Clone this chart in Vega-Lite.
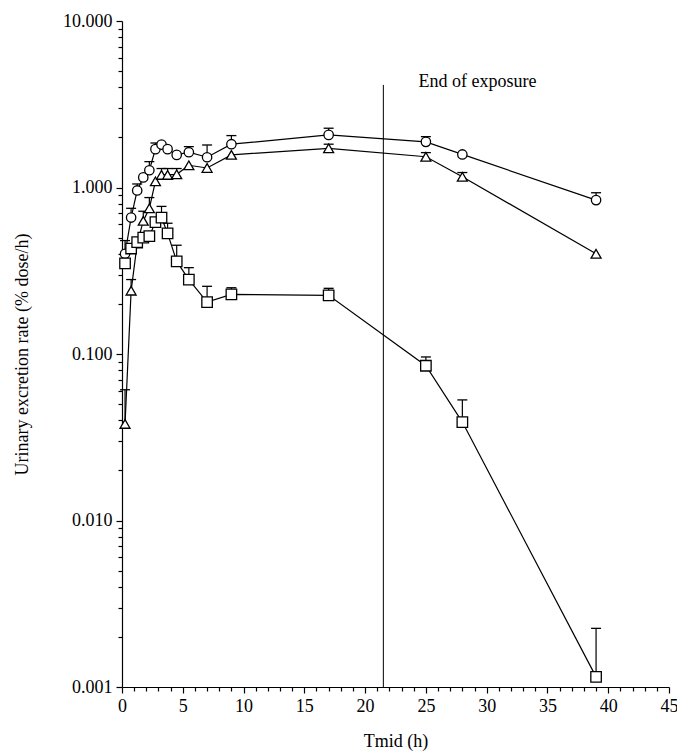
{
  "$schema": "https://vega.github.io/schema/vega-lite/v6.json",
  "width": 547,
  "height": 666,
  "autosize": {"type": "none"},
  "padding": {"left": 122, "top": 21, "right": 8, "bottom": 65},
  "background": "white",
  "config": {
    "view": {"stroke": null},
    "font": "Liberation Serif",
    "axis": {
      "domainColor": "black",
      "domainWidth": 1.2,
      "tickColor": "black",
      "tickWidth": 1.2,
      "labelColor": "black",
      "labelFont": "Liberation Serif",
      "labelFontSize": 18,
      "titleColor": "black",
      "titleFont": "Liberation Serif",
      "titleFontSize": 18,
      "titleFontWeight": "normal",
      "grid": false
    }
  },
  "datasets": {
    "rates": [
      {"series": "circle", "t": 0.25, "v": 0.40, "hi": 0.48},
      {"series": "circle", "t": 0.75, "v": 0.66, "hi": 0.75},
      {"series": "circle", "t": 1.25, "v": 0.96, "hi": 1.05},
      {"series": "circle", "t": 1.75, "v": 1.15, "hi": null},
      {"series": "circle", "t": 2.25, "v": 1.27, "hi": 1.43},
      {"series": "circle", "t": 2.75, "v": 1.70, "hi": 1.85},
      {"series": "circle", "t": 3.25, "v": 1.81, "hi": null},
      {"series": "circle", "t": 3.75, "v": 1.70, "hi": null},
      {"series": "circle", "t": 4.5, "v": 1.57, "hi": null},
      {"series": "circle", "t": 5.5, "v": 1.63, "hi": 1.76},
      {"series": "circle", "t": 7, "v": 1.52, "hi": 1.80},
      {"series": "circle", "t": 9, "v": 1.82, "hi": 2.05},
      {"series": "circle", "t": 17, "v": 2.07, "hi": 2.27},
      {"series": "circle", "t": 25, "v": 1.88, "hi": 2.02},
      {"series": "circle", "t": 28, "v": 1.58, "hi": null},
      {"series": "circle", "t": 39, "v": 0.84, "hi": 0.93},

      {"series": "triangle", "t": 0.25, "v": 0.038, "hi": 0.061},
      {"series": "triangle", "t": 0.75, "v": 0.24, "hi": 0.28},
      {"series": "triangle", "t": 1.25, "v": 0.46, "hi": null},
      {"series": "triangle", "t": 1.75, "v": 0.63, "hi": 0.72},
      {"series": "triangle", "t": 2.25, "v": 0.75, "hi": 0.87},
      {"series": "triangle", "t": 2.75, "v": 1.09, "hi": null},
      {"series": "triangle", "t": 3.25, "v": 1.19, "hi": 1.30},
      {"series": "triangle", "t": 3.75, "v": 1.19, "hi": 1.30},
      {"series": "triangle", "t": 4.5, "v": 1.20, "hi": 1.30},
      {"series": "triangle", "t": 5.5, "v": 1.36, "hi": null},
      {"series": "triangle", "t": 7, "v": 1.31, "hi": null},
      {"series": "triangle", "t": 9, "v": 1.57, "hi": null},
      {"series": "triangle", "t": 17, "v": 1.72, "hi": 1.82},
      {"series": "triangle", "t": 25, "v": 1.53, "hi": 1.62},
      {"series": "triangle", "t": 28, "v": 1.16, "hi": 1.23},
      {"series": "triangle", "t": 39, "v": 0.40, "hi": null},

      {"series": "square", "t": 0.25, "v": 0.35, "hi": null},
      {"series": "square", "t": 0.75, "v": 0.43, "hi": null},
      {"series": "square", "t": 1.25, "v": 0.47, "hi": null},
      {"series": "square", "t": 1.75, "v": 0.50, "hi": null},
      {"series": "square", "t": 2.25, "v": 0.51, "hi": null},
      {"series": "square", "t": 2.75, "v": 0.62, "hi": null},
      {"series": "square", "t": 3.25, "v": 0.66, "hi": 0.77},
      {"series": "square", "t": 3.75, "v": 0.53, "hi": 0.61},
      {"series": "square", "t": 4.5, "v": 0.36, "hi": 0.45},
      {"series": "square", "t": 5.5, "v": 0.28, "hi": 0.33},
      {"series": "square", "t": 7, "v": 0.205, "hi": 0.255},
      {"series": "square", "t": 9, "v": 0.228, "hi": 0.25},
      {"series": "square", "t": 17, "v": 0.225, "hi": 0.248},
      {"series": "square", "t": 25, "v": 0.085, "hi": 0.096},
      {"series": "square", "t": 28, "v": 0.039, "hi": 0.053},
      {"series": "square", "t": 39, "v": 0.00115, "hi": 0.00225}
    ],
    "exposure": [
      {"t": 21.5, "v": 0.001, "top": 4.13}
    ],
    "note": [
      {"t": 24.4, "v": 4.3, "label": "End of exposure"}
    ]
  },
  "encoding": {
    "x": {
      "field": "t", "type": "quantitative",
      "scale": {"domain": [0, 45], "nice": false, "zero": false},
      "axis": {
        "title": "Tmid (h)",
        "titlePadding": 17,
        "values": [0,1,2,3,4,5,6,7,8,9,10,11,12,13,14,15,16,17,18,19,20,21,22,23,24,25,26,27,28,29,30,31,32,33,34,35,36,37,38,39,40,41,42,43,44,45],
        "labelExpr": "datum.value % 5 === 0 ? format(datum.value, 'd') : ''",
        "tickSize": {"condition": {"test": "datum.value % 5 === 0", "value": 6}, "value": 4},
        "labelPadding": 4,
        "labelFlush": false,
        "labelOverlap": false
      }
    },
    "y": {
      "field": "v", "type": "quantitative",
      "scale": {"type": "log", "domain": [0.001, 10], "nice": false},
      "axis": {
        "title": "Urinary excretion rate (% dose/h)",
        "titlePadding": 31,
        "values": [0.001,0.002,0.003,0.004,0.005,0.006,0.007,0.008,0.009,0.01,0.02,0.03,0.04,0.05,0.06,0.07,0.08,0.09,0.1,0.2,0.3,0.4,0.5,0.6,0.7,0.8,0.9,1,2,3,4,5,6,7,8,9,10],
        "labelExpr": "abs(log(datum.value)/LN10 - round(log(datum.value)/LN10)) < 1e-6 ? format(datum.value, '.3f') : ''",
        "tickSize": {"condition": {"test": "abs(log(datum.value)/LN10 - round(log(datum.value)/LN10)) < 1e-6", "value": 6}, "value": 4},
        "labelPadding": 4,
        "labelFlush": false,
        "labelOverlap": false
      }
    }
  },
  "layer": [
    {
      "data": {"name": "exposure"},
      "mark": {"type": "rule", "color": "black", "strokeWidth": 1},
      "encoding": {"y2": {"field": "top"}}
    },
    {
      "data": {"name": "note"},
      "mark": {"type": "text", "align": "left", "baseline": "middle", "font": "Liberation Serif", "fontSize": 18, "color": "black"},
      "encoding": {"text": {"field": "label"}}
    },
    {
      "data": {"name": "rates"},
      "mark": {"type": "line", "color": "black", "strokeWidth": 1.2},
      "encoding": {"detail": {"field": "series"}}
    },
    {
      "data": {"name": "rates"},
      "transform": [{"filter": "datum.hi != null"}],
      "mark": {"type": "errorbar", "color": "black", "thickness": 1.2, "ticks": false},
      "encoding": {"y2": {"field": "hi"}}
    },
    {
      "data": {"name": "rates"},
      "transform": [{"filter": "datum.hi != null"}],
      "mark": {"type": "point", "shape": "M-1,0H1", "size": 100, "stroke": "black", "strokeWidth": 1.3, "filled": false, "opacity": 1},
      "encoding": {
        "y": {
          "field": "hi", "type": "quantitative",
          "scale": {"type": "log", "domain": [0.001, 10], "nice": false},
          "axis": {
            "title": "Urinary excretion rate (% dose/h)",
            "titlePadding": 31,
            "values": [0.001,0.002,0.003,0.004,0.005,0.006,0.007,0.008,0.009,0.01,0.02,0.03,0.04,0.05,0.06,0.07,0.08,0.09,0.1,0.2,0.3,0.4,0.5,0.6,0.7,0.8,0.9,1,2,3,4,5,6,7,8,9,10],
            "labelExpr": "abs(log(datum.value)/LN10 - round(log(datum.value)/LN10)) < 1e-6 ? format(datum.value, '.3f') : ''",
            "tickSize": {"condition": {"test": "abs(log(datum.value)/LN10 - round(log(datum.value)/LN10)) < 1e-6", "value": 6}, "value": 4},
            "labelPadding": 4,
            "labelFlush": false,
            "labelOverlap": false
          }
        }
      }
    },
    {
      "data": {"name": "rates"},
      "mark": {"type": "point", "filled": false, "fill": "white", "fillOpacity": 1, "stroke": "black", "strokeWidth": 1.3, "opacity": 1},
      "encoding": {
        "shape": {
          "field": "series", "type": "nominal",
          "scale": {"domain": ["circle", "triangle", "square"], "range": ["circle", "triangle-up", "square"]},
          "legend": null
        },
        "size": {
          "field": "series", "type": "nominal",
          "scale": {"domain": ["circle", "triangle", "square"], "range": [88, 110, 90]},
          "legend": null
        }
      }
    }
  ]
}
